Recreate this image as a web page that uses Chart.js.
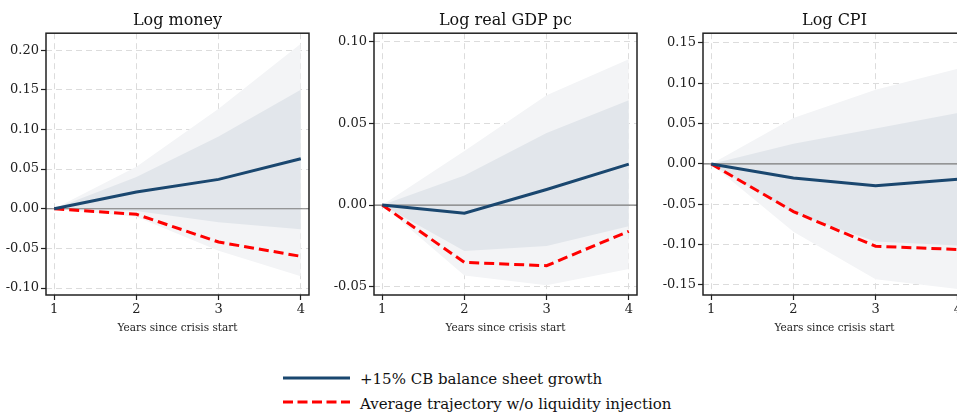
<!DOCTYPE html>
<html>
<head>
<meta charset="utf-8">
<script src="https://cdn.jsdelivr.net/npm/chart.js@4"></script>
<style>
  html, body { margin: 0; padding: 0; background: #fff; overflow: hidden; }
  body { width: 957px; height: 412px; position: relative; font-family: 'DejaVu Serif', serif; }
  .panel { position: absolute; top: 0; width: 320px; height: 340px; }
  .key-line { position: absolute; left: 283px; }
  .key-text { position: absolute; left: 360px; font-size: 15px; line-height: 20px; color: #111; white-space: nowrap; }
</style>
</head>
<body>
<div class="panel" style="left:0px"><canvas id="moneyChart"></canvas></div>
<div class="panel" style="left:328px"><canvas id="gdpChart"></canvas></div>
<div class="panel" style="left:657px"><canvas id="cpiChart"></canvas></div>

<svg class="key-line" style="top:372px" width="68" height="12"><line x1="0" y1="6" x2="67" y2="6" stroke="#1a476f" stroke-width="3"/></svg>
<div class="key-text" style="top:369px">+15% CB balance sheet growth</div>
<svg class="key-line" style="top:396px" width="68" height="12"><line x1="0" y1="6" x2="67" y2="6" stroke="#ff0000" stroke-width="3" stroke-dasharray="10 4.5"/></svg>
<div class="key-text" style="top:394px">Average trajectory w/o liquidity injection</div>

<script>
// x axis: years since crisis start
const years = [1, 2, 3, 4];

// Log money
const moneyCB = [0, 0.021, 0.037, 0.063];
const moneyAvg = [0, -0.007, -0.042, -0.060];
const moneyInnerHi = [0, 0.040, 0.091, 0.150];
const moneyInnerLo = [0, -0.003, -0.017, -0.026];
const moneyOuterHi = [0, 0.053, 0.126, 0.208];
const moneyOuterLo = [0, -0.010, -0.053, -0.085];
const moneyTicks = [-0.10, -0.05, 0, 0.05, 0.10, 0.15, 0.20];

// Log real GDP pc
const gdpCB = [0, -0.005, 0.0095, 0.025];
const gdpAvg = [0, -0.035, -0.037, -0.016];
const gdpInnerHi = [0, 0.018, 0.044, 0.064];
const gdpInnerLo = [0, -0.028, -0.025, -0.013];
const gdpOuterHi = [0, 0.033, 0.067, 0.089];
const gdpOuterLo = [0, -0.043, -0.049, -0.039];
const gdpTicks = [-0.05, 0, 0.05, 0.10];

// Log CPI
const cpiCB = [0, -0.0175, -0.027, -0.019];
const cpiAvg = [0, -0.059, -0.102, -0.106];
const cpiInnerHi = [0, 0.025, 0.044, 0.063];
const cpiInnerLo = [0, -0.061, -0.096, -0.101];
const cpiOuterHi = [0, 0.057, 0.092, 0.118];
const cpiOuterLo = [0, -0.084, -0.143, -0.155];
const cpiTicks = [-0.15, -0.10, -0.05, 0, 0.05, 0.10, 0.15];

const xLo = 0.9, xHi = 4.1;

Chart.defaults.font.family = "'DejaVu Serif', serif";
Chart.defaults.color = '#222';

function pts(vals) {
    return years.map((x, i) => ({ x: x, y: vals[i] }));
}

// black box round the plot area
const framePlugin = {
    id: 'frame',
    afterDraw(chart) {
        const a = chart.chartArea;
        const ctx = chart.ctx;
        ctx.save();
        ctx.strokeStyle = '#222';
        ctx.lineWidth = 1.5;
        ctx.strokeRect(a.left, a.top, a.right - a.left, a.bottom - a.top);
        ctx.restore();
    }
};

function band(vals, color) {
    return {
        data: pts(vals),
        borderWidth: 0,
        borderColor: 'rgba(0,0,0,0)',
        backgroundColor: color,
        pointRadius: 0,
        fill: color ? '+1' : false
    };
}

function renderPanel(canvasId, title, cb, avg, innerHi, innerLo, outerHi, outerLo, yMin, yMax, yTicks) {
    const ctx = document.getElementById(canvasId).getContext('2d');
    return new Chart(ctx, {
        type: 'line',
        data: {
            datasets: [
                {
                    label: '+15% CB balance sheet growth',
                    data: pts(cb),
                    borderColor: '#1a476f',
                    borderWidth: 3,
                    pointRadius: 0,
                    fill: false
                },
                {
                    label: 'Average trajectory w/o liquidity injection',
                    data: pts(avg),
                    borderColor: '#ff0000',
                    borderWidth: 3,
                    borderDash: [10, 5],
                    pointRadius: 0,
                    fill: false
                },
                {
                    // zero reference line
                    data: [{ x: xLo, y: 0 }, { x: xHi, y: 0 }],
                    borderColor: '#7a7a7a',
                    borderWidth: 1.2,
                    pointRadius: 0,
                    fill: false
                },
                band(innerHi, '#e2e6eb'),
                band(innerLo, null),
                band(outerHi, '#f3f4f6'),
                band(outerLo, null)
            ]
        },
        options: {
            responsive: true,
            maintainAspectRatio: false,
            animation: false,
            events: [],
            layout: { padding: { left: 0, right: 11, top: 0, bottom: 0 } },
            plugins: {
                legend: { display: false },
                tooltip: { enabled: false },
                title: {
                    display: true,
                    text: title,
                    fullSize: false,
                    color: '#111',
                    font: { size: 16, weight: 'normal' },
                    padding: { top: 11, bottom: 3 }
                }
            },
            scales: {
                x: {
                    type: 'linear',
                    min: xLo,
                    max: xHi,
                    afterBuildTicks: (s) => { s.ticks = years.map(v => ({ value: v })); },
                    afterFit: (s) => { s.height = 45; },
                    ticks: {
                        font: { size: 13 },
                        padding: 2,
                        maxRotation: 0,
                        callback: (v) => String(v)
                    },
                    grid: {
                        color: '#dcdcdc',
                        lineWidth: 1,
                        tickLength: 5,
                        tickColor: '#222',
                        tickWidth: 1.2
                    },
                    border: { display: false, dash: [6, 4] },
                    title: {
                        display: true,
                        text: 'Years since crisis start',
                        font: { size: 10.5 },
                        color: '#222',
                        padding: { top: 0, bottom: 5 }
                    }
                },
                y: {
                    min: yMin,
                    max: yMax,
                    afterBuildTicks: (s) => { s.ticks = yTicks.map(v => ({ value: v })); },
                    afterFit: (s) => { s.width = 46; },
                    ticks: {
                        font: { size: 13 },
                        padding: 2,
                        callback: (v) => (Math.abs(v) < 1e-9 ? 0 : v).toFixed(2)
                    },
                    grid: {
                        color: '#dcdcdc',
                        lineWidth: 1,
                        tickLength: 5,
                        tickColor: '#222',
                        tickWidth: 1.2
                    },
                    border: { display: false, dash: [6, 4] }
                }
            }
        },
        plugins: [framePlugin]
    });
}

renderPanel('moneyChart', 'Log money', moneyCB, moneyAvg, moneyInnerHi, moneyInnerLo,
    moneyOuterHi, moneyOuterLo, -0.1088, 0.2214, moneyTicks);
renderPanel('gdpChart', 'Log real GDP pc', gdpCB, gdpAvg, gdpInnerHi, gdpInnerLo,
    gdpOuterHi, gdpOuterLo, -0.0549, 0.1049, gdpTicks);
renderPanel('cpiChart', 'Log CPI', cpiCB, cpiAvg, cpiInnerHi, cpiInnerLo,
    cpiOuterHi, cpiOuterLo, -0.1624, 0.162, cpiTicks);
</script>
</body>
</html>
